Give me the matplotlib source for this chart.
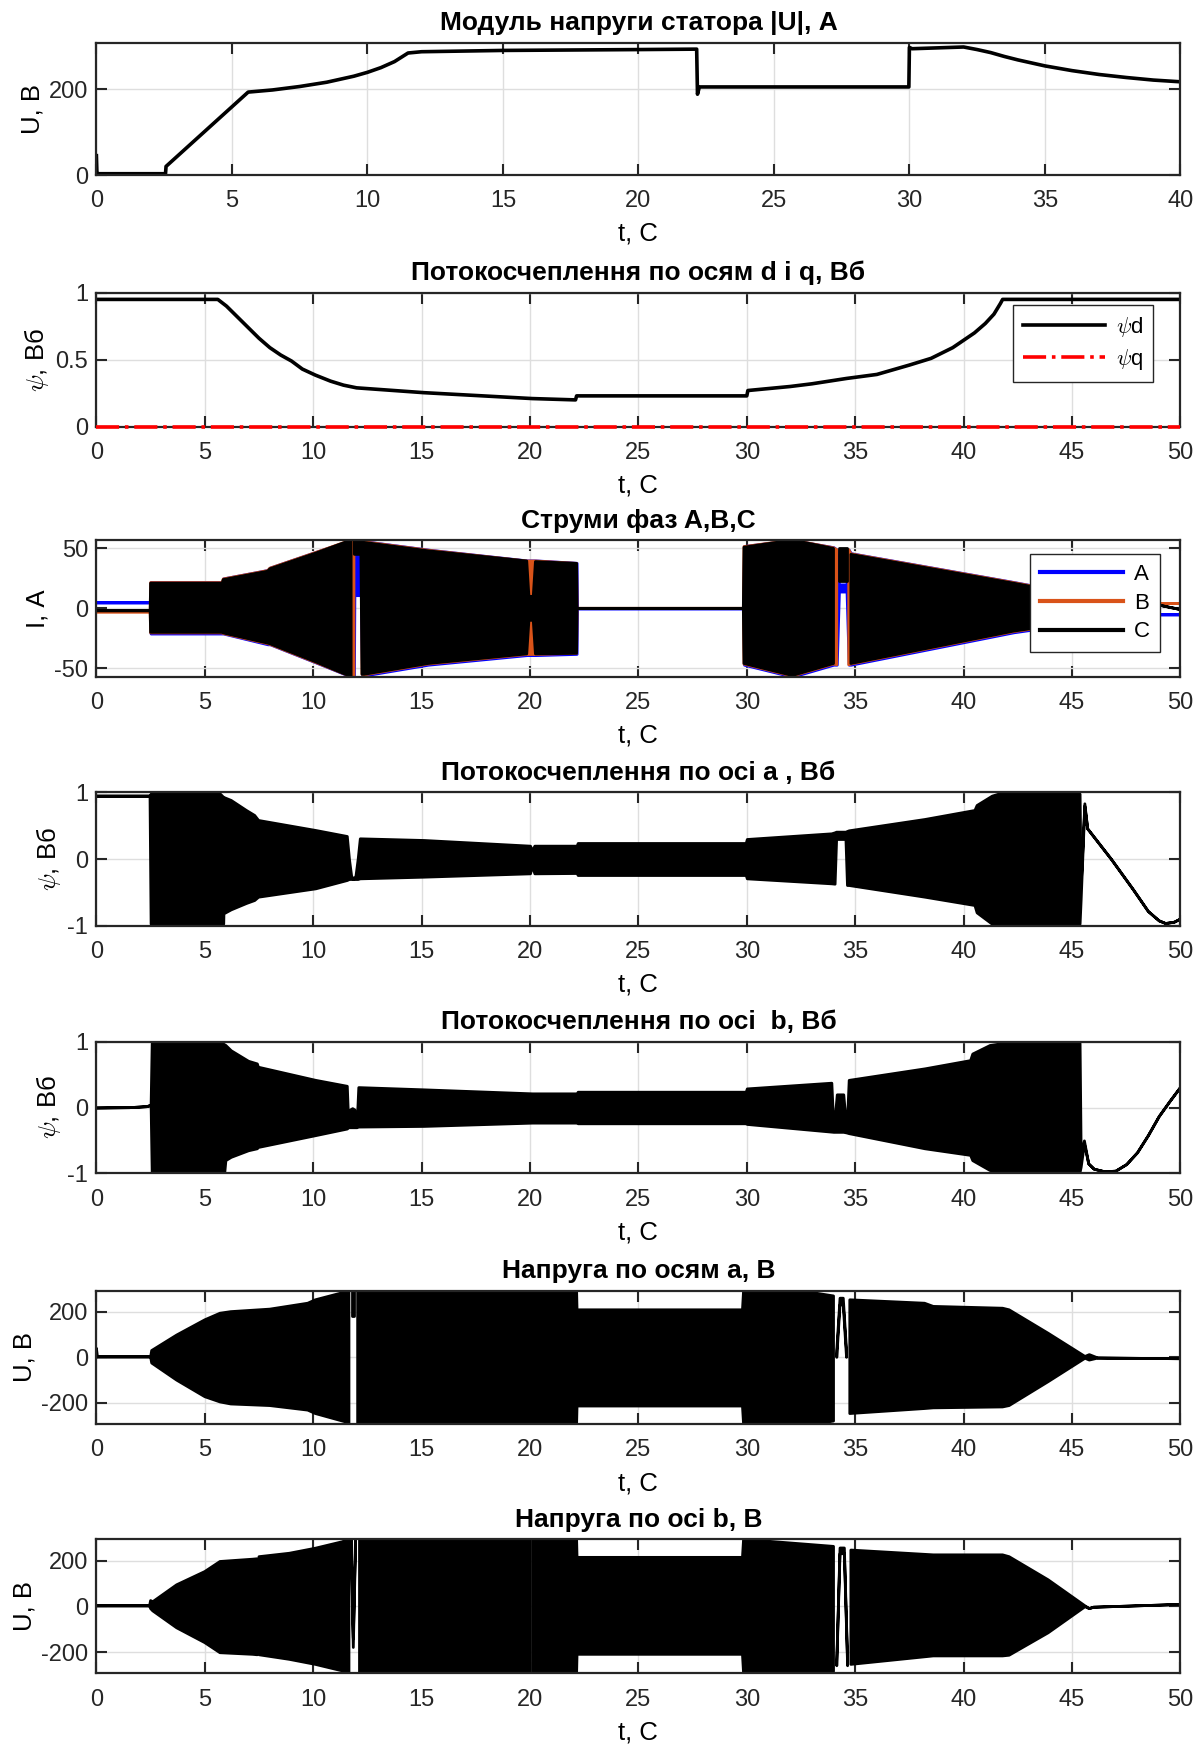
import numpy as np
import matplotlib
matplotlib.use("Agg")
from matplotlib import pyplot as plt

nan = np.nan

# ---- panel 1: |U| ----
t_u = [0, 0.02, 0.1, 2.55, 2.57, 5.6, 6.5, 7.5, 8.5, 9.5, 10.0, 10.5, 11.0, 11.3, 11.5,
       12.0, 15.0, 20.0, 22.15, 22.18, 22.25, 29.98, 30.0, 30.1, 32.0, 32.5, 33.0,
       33.5, 34.0, 35.0, 36.0, 37.0, 38.0, 39.0, 40.0]
u_abs = [45, 3, 3, 3, 20, 193, 198, 206, 216, 230, 239, 250, 264, 276, 284,
         287, 290, 292, 293, 188, 205, 205, 297, 294, 298, 292, 285,
         276, 268, 254, 243, 234, 227, 221, 217]

# ---- panel 2: psi d / psi q ----
t_psi = [0, 5.6, 6.0, 6.5, 7.0, 7.5, 8.0, 8.5, 9.0, 9.5, 10.1, 10.8, 11.4, 12.0, 15.1,
         20.1, 22.1, 22.15, 30.0, 30.05, 32.0, 33.0, 34.6, 36.0, 37.5, 38.5, 39.5,
         40.5, 41.0, 41.4, 41.7, 41.8, 50]
psi_d = [0.95, 0.95, 0.9, 0.82, 0.74, 0.66, 0.59, 0.535, 0.49, 0.43, 0.385, 0.34, 0.31, 0.29, 0.254,
         0.21, 0.2, 0.23, 0.23, 0.27, 0.30, 0.32, 0.36, 0.39, 0.46, 0.51, 0.59,
         0.70, 0.77, 0.84, 0.92, 0.95, 0.95]
t_q = [0, 50]
psi_q = [0, 0]

# ---- panel 3: phase currents (upper / lower envelope) ----
t_i = [0, 2.48, 2.5, 5.8, 5.85, 7.9, 8.0, 10.1, 11.75, 11.8, 11.88, 11.9, 12.2, 12.25,
       12.35, 15.3, 19.85, 19.95, 20.15, 20.25, 22.15, 22.17, 29.84, 29.87, 32.1,
       34.0, 34.15, 34.25, 34.6, 34.7, 34.8, 42.3, 45.0, 47.5, 48.4, 50]
ia_hi = [5, 5, 22, 22, 25, 32, 34, 47, 57, 57, 57, 45, 45, 55,
         56, 49, 40, 40, 40, 40, 38, 0, 0, 52, 57,
         51, 49, 20, 20, 49, 46, 22, 13, 7, -5, -5]
ia_lo = [5, 5, -21, -21, -21, -30, -30, -45, -57, -57, -57, 11, 11, -55,
         -56, -47, -39, -39, -39, -39, -38, 0, 0, -47, -57,
         -47, -47, 14, 14, -47, -47, -20, -13, -7, -5, -5]
ib_hi = [-3, -3, 21.5, 21.5, 24.5, 31.5, 33.5, 46.5, 57, 57, 57, nan, nan, 55,
         55.5, 48.5, 39.5, 39.5, 39.5, 39.5, 37.5, 0, 0, 51.5, 57,
         50.5, 49, nan, nan, 49, 45.5, 21.5, 12.5, 6.5, 4, 4]
ib_lo = [-3, -3, -20.5, -20.5, -21, -29.5, -30, -45, -57, -57, -57, nan, nan, -55,
         -55.5, -46.5, -38.5, -38.5, -38.5, -38.5, -37.5, 0, 0, -46.5, -56.5,
         -46.5, -47, nan, nan, -47, -46.5, -19.5, -12.5, -6.5, 4, 4]
ic_hi = [-2, -2, 21, 21, 24, 31, 33, 46, 57, nan, nan, 57, 56, 55,
         55, 48, 39.5, 10, 10, 39, 37.5, 0, 0, 51, 57,
         50, nan, 50, 50, nan, 45, 21, 12, 6, 5, -1]
ic_lo = [-2, -2, -20, -20, -20.5, -29, -29.5, -44.5, -57, nan, nan, 45, 45, -55,
         -55, -46, -38, -10, -10, -38, -37.5, 0, 0, -46, -56,
         -46, nan, 23, 23, nan, -46, -19, -12, -6, 5, -1]

# ---- panel 4: psi alpha ----
t_pa = [0, 2.45, 2.5, 2.55, 5.7, 5.85, 5.86, 6.2, 6.9, 7.28, 7.46, 10.1, 11.55, 11.65,
        11.75, 11.85, 11.95, 12.05, 12.15, 15.1, 20.0, 20.1, 20.2, 22.15, 22.2, 29.95,
        30.0, 33.9, 34.05, 34.12, 34.55, 34.62, 34.7, 38.2, 40.5, 40.6, 41.3, 41.6,
        45.35, 45.4, 45.57, 45.7, 46.8, 47.8, 48.5, 49.0, 49.3, 49.7, 50]
pa_hi = [0.95, 0.95, 0.98, 0.98, 0.98, 0.93, 0.93, 0.885, 0.735, 0.66, 0.585, 0.435, 0.345, 0.0,
         -0.25, -0.3, -0.25, 0.0, 0.31, 0.285, 0.2, 0.13, 0.2, 0.2, 0.24, 0.24,
         0.3, 0.385, 0.4, 0.41, 0.41, 0.42, 0.43, 0.6, 0.735, 0.81, 0.95, 0.98,
         0.98, -0.4, 0.835, 0.46, 0.0, -0.45, -0.78, -0.92, -0.96, -0.94, -0.89]
pa_lo = [0.95, 0.95, -0.97, -0.97, -0.97, -0.97, -0.815, -0.755, -0.66, -0.615, -0.565, -0.44, -0.315, -0.3,
         -0.3, -0.3, -0.3, -0.3, -0.29, -0.265, -0.215, -0.1, -0.215, -0.21, -0.24, -0.24,
         -0.29, -0.365, -0.37, 0.3, 0.3, -0.39, -0.39, -0.565, -0.69, -0.8, -0.97, -0.97,
         -0.97, -0.6, 0.8, 0.46, 0.0, -0.45, -0.78, -0.92, -0.96, -0.94, -0.89]

# ---- panel 5: psi beta ----
t_pb = [0, 1.5, 2.3, 2.5, 2.55, 5.8, 5.9, 5.95, 6.2, 7.0, 7.4, 7.45, 10.1, 11.55,
        11.62, 11.7, 11.8, 11.9, 12.0, 12.08, 15.1, 20.1, 22.15, 22.2, 29.95, 30.0,
        33.9, 34.0, 34.15, 34.45, 34.6, 34.7, 38.2, 40.3, 40.4, 41.2, 41.8, 45.35,
        45.4, 45.55, 45.75, 46.0, 46.5, 47.0, 47.5, 48.0, 48.5, 49.0, 49.5, 50]
pb_hi = [0.0, 0.005, 0.02, 0.04, 0.98, 0.98, 0.96, 0.95, 0.87, 0.71, 0.67, 0.62, 0.42, 0.33,
         -0.28, -0.03, -0.01, -0.03, -0.28, 0.31, 0.276, 0.215, 0.215, 0.24, 0.24, 0.29,
         0.377, -0.36, 0.2, 0.2, -0.36, 0.42, 0.595, 0.72, 0.82, 0.95, 0.98, 0.98,
         -0.7, -0.5, -0.85, -0.93, -0.97, -0.96, -0.86, -0.68, -0.42, -0.13, 0.1, 0.32]
pb_lo = [0.0, 0.005, 0.02, 0.04, -0.98, -0.98, -0.98, -0.8, -0.75, -0.65, -0.62, -0.6, -0.42, -0.32,
         -0.3, -0.3, -0.3, -0.3, -0.3, -0.29, -0.28, -0.23, -0.23, -0.24, -0.24, -0.25,
         -0.367, -0.37, -0.37, -0.37, -0.38, -0.39, -0.62, -0.72, -0.8, -0.95, -0.98, -0.98,
         -0.9, -0.55, -0.85, -0.93, -0.97, -0.96, -0.86, -0.68, -0.42, -0.13, 0.1, 0.32]

# ---- panel 6: U alpha ----
t_ua = [0, 0.05, 2.5, 2.55, 3.7, 5.0, 5.7, 6.2, 8.0, 9.75, 10.1, 11.5, 11.65, 11.7,
        11.8, 11.9, 11.95, 12.05, 22.15, 22.17, 29.8, 29.85, 33.2, 34.0, 34.05, 34.15,
        34.3, 34.45, 34.6, 34.65, 34.75, 38.2, 38.6, 41.8, 42.1, 43.9, 45.6, 45.8,
        46.2, 50]
ua_hi = [40, 2, 2, 30, 98, 165, 194, 201, 212, 238, 253, 288, 293, nan,
         290, 290, nan, 293, 293, 209, 209, 293, 282, 270, nan, 30,
         260, 260, 30, nan, 253, 238, 224, 216, 209, 106, 4, 12,
         -3, -6]
ua_lo = [0, 2, 2, -25, -100, -173, -196, -205, -212, -232, -247, -284, -293, nan,
         180, 180, nan, -293, -293, -214, -214, -293, -293, -280, nan, 0,
         230, 230, 0, nan, -247, -225, -222, -218, -212, -107, -4, -12,
         -3, -6]

# ---- panel 7: U beta ----
t_ub = [0, 2.45, 2.5, 2.6, 3.7, 5.0, 5.7, 7.2, 7.42, 7.45, 7.5, 8.9, 10.1, 11.37,
        11.5, 11.65, 11.7, 11.75, 11.85, 11.95, 12.0, 12.1, 20.0, 20.05, 20.15, 22.15,
        22.17, 29.8, 29.85, 33.2, 34.0, 34.05, 34.15, 34.3, 34.5, 34.65, 34.7, 34.8,
        38.6, 41.8, 42.1, 43.9, 45.6, 45.8, 46.0, 50]
ub_hi = [2, 2, 25, 20, 94, 152, 196, 206, 208, nan, 217, 232, 254, 283,
         293, 293, nan, 293, -140, 293, nan, 293, 293, nan, 293, 293,
         214, 214, 293, 268, 262, nan, -240, 255, 255, -240, nan, 246,
         225, 225, 217, 116, 2, -10, -4, 8]
ub_lo = [2, 2, -10, -20, -94, -159, -203, -210, -212, nan, -212, -232, -254, -283,
         -293, -293, nan, 250, -180, 250, nan, -293, -293, nan, -293, -293,
         -210, -210, -293, -293, -285, nan, -260, 230, 230, -260, nan, -254,
         -217, -217, -214, -116, -2, -10, -4, 8]

titles = ["Модуль напруги статора |U|, А",
          "Потокосчеплення по осям d і q, Вб",
          "Струми фаз A,B,C",
          "Потокосчеплення по осі а , Вб",
          "Потокосчеплення по осі  b, Вб",
          "Напруга по осям а, В",
          "Напруга по осі b, В"]
ylabels = ["U, В", r"$\psi$, Вб", "I, А", r"$\psi$, Вб", r"$\psi$, Вб", "U, В", "U, В"]


def env(ax, t, hi, lo, color):
    ax.fill_between(np.array(t, float), np.array(lo, float), np.array(hi, float),
                    facecolor=color, edgecolor=color, lw=2.0)


plt.rcParams['font.family'] = ['Liberation Sans', 'DejaVu Sans']
plt.rcParams['mathtext.fontset'] = 'cm'
plt.rcParams['axes.unicode_minus'] = False

fig = plt.figure(figsize=(12.02, 17.47), dpi=100)
W, H = 1202.0, 1747.0
tops = [42.7, 292.7, 540, 792.3, 1041.7, 1290.7, 1539.3]
bots = [175, 426.7, 676.7, 925.7, 1173.3, 1424, 1673.3]
axs = []
for top, bot in zip(tops, bots):
    axs.append(fig.add_axes([96.4 / W, 1 - bot / H, 1084 / W, (bot - top) / H]))

leg_kw = dict(loc='upper right', handlelength=3.7, fontsize=16, fancybox=False,
              framealpha=1, edgecolor='#262626', borderpad=0.45, labelspacing=0.35,
              borderaxespad=0, handletextpad=0.5)

ax = axs[0]
ax.plot(t_u, u_abs, color='k', lw=2.6)
ax.set_xlim(0, 40)
ax.set_ylim(0, 308)
ax.set_yticks([0, 200])

ax = axs[1]
ax.plot(t_psi, psi_d, color='k', lw=2.6, label=r"$\psi$d")
ax.plot(t_q, psi_q, color='r', lw=2.6, ls='-.', label=r"$\psi$q", clip_on=False, zorder=5)
ax.set_ylim(0, 1)
ax.set_yticks([0, 0.5, 1])
ax.set_yticklabels(["0", "0.5", "1"])
ax.legend(bbox_to_anchor=(0.975, 0.91), **leg_kw)

ax = axs[2]
env(ax, t_i, ia_hi, ia_lo, '#0000ff')
env(ax, t_i, ib_hi, ib_lo, '#d95319')
env(ax, t_i, ic_hi, ic_lo, 'k')
ax.set_ylim(-57, 57)
ax.set_yticks([-50, 0, 50])
ax.plot([], [], color='#0000ff', lw=3, label='A')
ax.plot([], [], color='#d95319', lw=3, label='B')
ax.plot([], [], color='k', lw=3, label='C')
ax.legend(bbox_to_anchor=(0.981, 0.898), **leg_kw)

ax = axs[3]
env(ax, t_pa, pa_hi, pa_lo, 'k')
ax.set_ylim(-1, 1)
ax.set_yticks([-1, 0, 1])

ax = axs[4]
env(ax, t_pb, pb_hi, pb_lo, 'k')
ax.set_ylim(-1, 1)
ax.set_yticks([-1, 0, 1])

ax = axs[5]
env(ax, t_ua, ua_hi, ua_lo, 'k')
ax.set_ylim(-293, 293)
ax.set_yticks([-200, 0, 200])

ax = axs[6]
env(ax, t_ub, ub_hi, ub_lo, 'k')
ax.set_ylim(-293, 293)
ax.set_yticks([-200, 0, 200])

for i, ax in enumerate(axs):
    if i > 0:
        ax.set_xlim(0, 50)
        ax.set_xticks(range(0, 51, 5))
    else:
        ax.set_xticks(range(0, 41, 5))
    ax.set_title(titles[i], fontsize=19, fontweight='bold', pad=9)
    ax.set_xlabel("t, С", fontsize=18.5, labelpad=7)
    ax.set_ylabel(ylabels[i], fontsize=18.5, labelpad=3)
    ax.grid(True, color='#dedede', lw=1.0)
    ax.set_axisbelow(True)
    ax.tick_params(direction='in', length=8, width=1.5, labelsize=17,
                   top=True, right=True, colors='#262626', pad=6)
    ax.tick_params(axis='x', pad=11)
    for s in ax.spines.values():
        s.set_linewidth(1.6)
        s.set_color('#262626')

fig.savefig("out.png", dpi=100, facecolor='white')
